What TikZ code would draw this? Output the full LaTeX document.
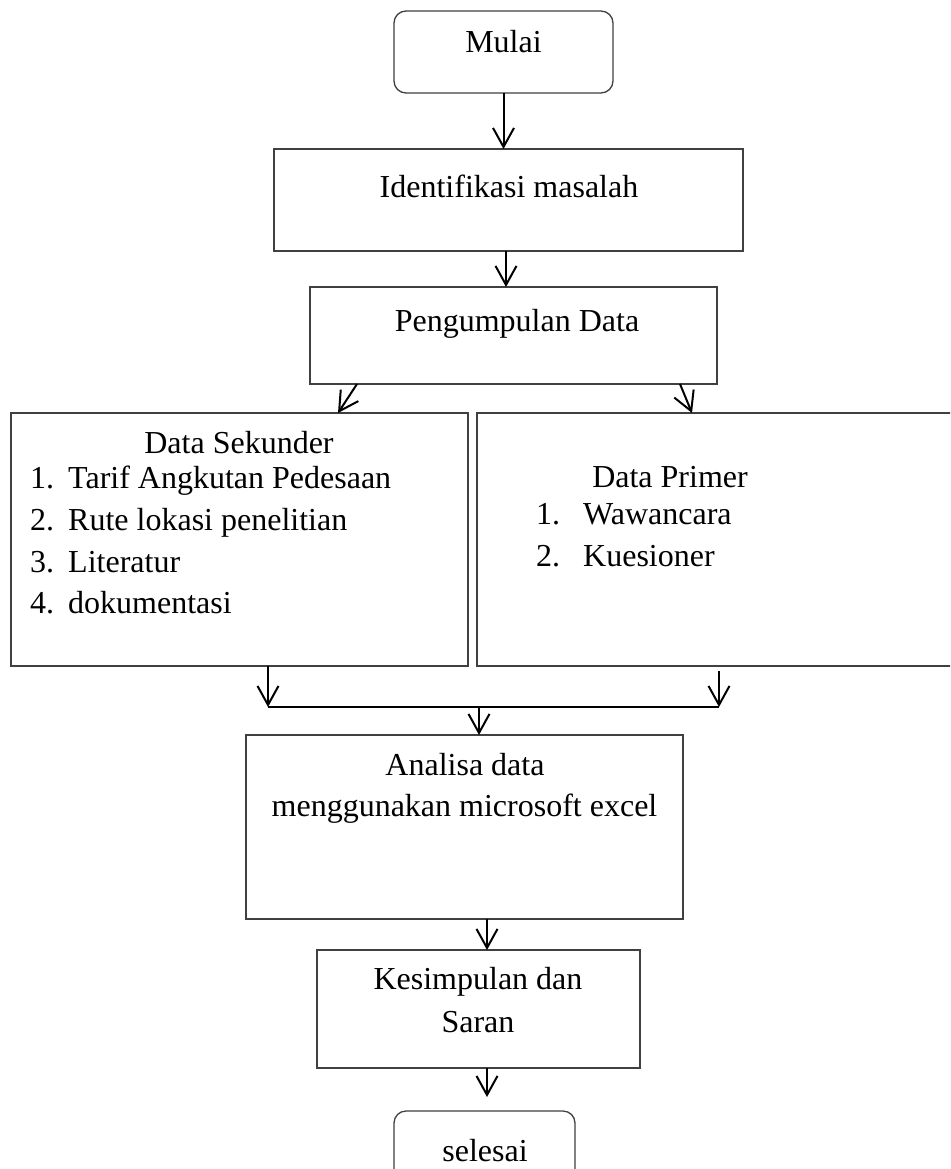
\documentclass[tikz,border=0pt]{standalone}
\usepackage{fontspec}
\setmainfont{Liberation Serif}
\usetikzlibrary{arrows.meta,calc}
\begin{document}
\begin{tikzpicture}[x=1pt,y=-1pt,
  box/.style={draw=black!75,line width=1.3pt,rectangle,inner sep=0pt,outer sep=0pt},
  rbox/.style={box,rounded corners=12pt},
  txt/.style={anchor=base,inner sep=0pt,font=\fontsize{32}{40}\selectfont},
  txtl/.style={anchor=base west,inner sep=0pt,font=\fontsize{32}{40}\selectfont},
  arr/.style={draw=black,line width=2pt,-{Straight Barb[length=19pt,width=21pt,line width=2pt]}},
  ln/.style={draw=black,line width=2pt}]
\clip (0,0) rectangle (950,1169);
\fill[white] (0,0) rectangle (950,1169);
% boxes
\node[rbox,minimum width=219pt,minimum height=82pt] (mulai) at (503.5,52) {};
\node[box,minimum width=469pt,minimum height=102pt] (ident) at (508.5,200) {};
\node[box,minimum width=407pt,minimum height=97pt] (peng) at (513.5,335.5) {};
\node[box,minimum width=457pt,minimum height=253pt] (sek) at (239.5,539.5) {};
\node[box,minimum width=483pt,minimum height=253pt] (prim) at (718.5,539.5) {};
\node[box,minimum width=437pt,minimum height=184pt] (anal) at (464.5,827) {};
\node[box,minimum width=323pt,minimum height=118pt] (kes) at (478.5,1009) {};
\node[rbox,minimum width=181pt,minimum height=74pt] (sel) at (484.5,1148) {};
% texts
\node[txt] (tmulai) at (503.5,53) {Mulai};
\node[txt] (tident) at (509,197) {Identifikasi masalah};
\node[txt] (tpeng) at (517,331) {Pengumpulan Data};
\node[txt] (tsek) at (239,453) {Data Sekunder};
\node[txtl] (s1n) at (30,488) {1.};
\node[txtl] (s1) at (68,488) {Tarif Angkutan Pedesaan};
\node[txtl] (s2n) at (30,530) {2.};
\node[txtl] (s2) at (68,530) {Rute lokasi penelitian};
\node[txtl] (s3n) at (30,572) {3.};
\node[txtl] (s3) at (68,572) {Literatur};
\node[txtl] (s4n) at (30,613) {4.};
\node[txtl] (s4) at (68,613) {dokumentasi};
\node[txt] (tprim) at (670,487) {Data Primer};
\node[txtl] (p1n) at (536,524) {1.};
\node[txtl] (p1) at (583,524) {Wawancara};
\node[txtl] (p2n) at (536,566) {2.};
\node[txtl] (p2) at (583,566) {Kuesioner};
\node[txt] (tanal1) at (465,775) {Analisa data};
\node[txt] (tanal2) at (464.5,816) {menggunakan microsoft excel};
\node[txt] (tkes1) at (478,989) {Kesimpulan dan};
\node[txt] (tkes2) at (478,1032) {Saran};
\node[txt] (tsel) at (485,1161) {selesai};
% merge coordinates
\coordinate (mL) at (268,707);
\coordinate (mR) at (719,707);
\coordinate (mC) at (479,707);
% connectors
\draw[arr] (mulai.south) -- (mulai.south |- ident.north);
\draw[arr] (506,0 |- ident.south) -- (506,0 |- peng.north);
\draw[arr] (357,0 |- peng.south) -- (338,0 |- sek.north);
\draw[arr] (680,0 |- peng.south) -- (692,0 |- prim.north);
\draw[arr] (mL |- sek.south) -- (mL);
\draw[arr] ($(mR |- prim.south)+(0,5)$) -- (mR);
\draw[ln] (mL) -- (mR);
\draw[arr] (mC) -- (mC |- anal.north);
\draw[arr] (487,0 |- anal.south) -- (487,0 |- kes.north);
\draw[arr] (487,0 |- kes.south) -- (487,1097);
\end{tikzpicture}
\end{document}
